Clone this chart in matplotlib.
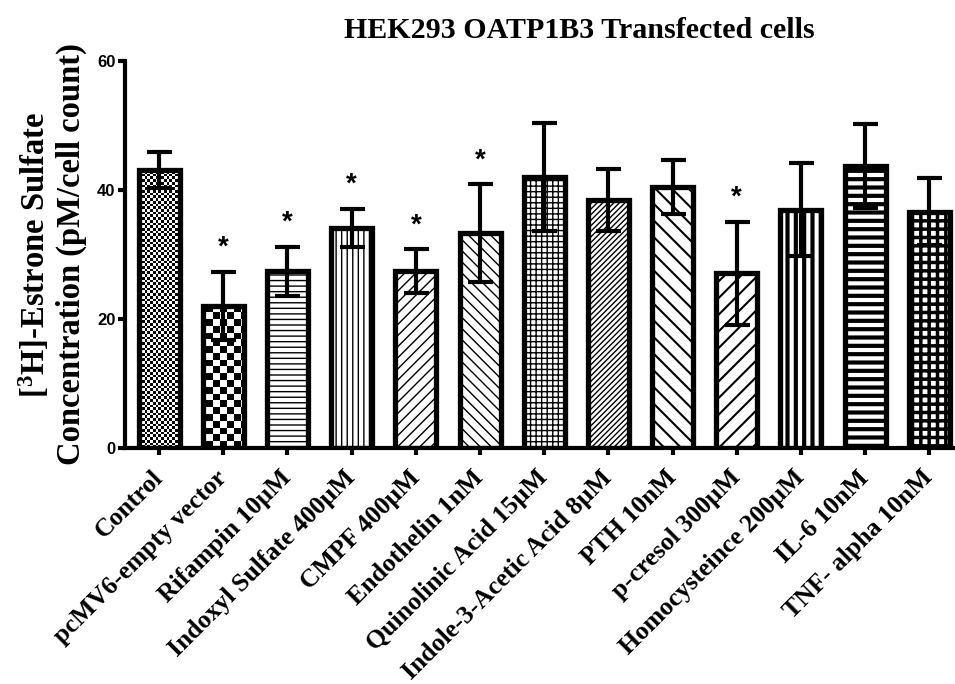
import numpy as np
import matplotlib
matplotlib.use("Agg")
import matplotlib.pyplot as plt
from matplotlib.transforms import ScaledTranslation

# -----------------------
# Data
# -----------------------
labels = ['Control', 'pcMV6-empty vector', 'Rifampin 10µM', 'Indoxyl Sulfate 400µM',
          'CMPF 400µM', 'Endothelin 1nM', 'Quinolinic Acid 15µM',
          'Indole-3-Acetic Acid 8µM', 'PTH 10nM', 'p-cresol 300µM',
          'Homocysteince 200µM', 'IL-6 10nM', 'TNF- alpha 10nM']
means = [43.1, 22.0, 27.4, 34.1, 27.4, 33.3, 42.0, 38.4, 40.5, 27.1, 36.9, 43.7, 36.6]
sems = [2.8, 5.3, 3.8, 3.0, 3.4, 7.6, 8.3, 4.8, 4.2, 8.0, 7.2, 6.5, 5.2]
significant = [False, True, True, True, True, True, False, False, False, True, False, False, False]

yticks = [0, 20, 40, 60]
title = 'HEK293 OATP1B3 Transfected cells'
ylabel = '[$^{3}$H]-Estrone Sulfate\nConcentration (pM/cell count)'

# bar fill styles: None -> checkerboard image with given cell size (px)
hatches = [None, None, '---', '|||', '///', '\\\\\\', '+++', '//////', '\\\\', '//', '||', '--', '++']
hatch_lw = [1, 1, 1, 1, 1, 1, 1, 1, 1.5, 1.5, 3, 3, 2.5]
checker_px = {0: 2.7, 1: 6.7}

# -----------------------
# Fonts
# -----------------------
plt.rcParams['mathtext.fontset'] = 'custom'
plt.rcParams['mathtext.rm'] = 'Liberation Serif:bold'
plt.rcParams['mathtext.it'] = 'Liberation Serif:bold'
plt.rcParams['mathtext.bf'] = 'Liberation Serif:bold'
serif = 'Liberation Serif'
sans = 'Liberation Sans'

# -----------------------
# Figure
# -----------------------
fig = plt.figure(figsize=(9.55, 6.84), dpi=100)
ax = fig.add_axes([0.131, 0.345, 0.869, 0.566])

x = np.arange(len(labels))
xlim = (-0.53, 12.4)
ylim = (0, 60)

bars = ax.bar(x, means, width=0.64, color='white', edgecolor='black',
              linewidth=3.8, zorder=2)

ax_w_px = 0.869 * 955
ax_h_px = 0.566 * 684
for i, bar in enumerate(bars):
    if hatches[i] is not None:
        bar.set_hatch(hatches[i])
        if hasattr(bar, 'set_hatch_linewidth'):
            bar.set_hatch_linewidth(hatch_lw[i])
    else:
        cell = checker_px[i]
        nx = int(ax_w_px / cell)
        ny = int(ax_h_px / cell)
        pattern = np.indices((ny, nx)).sum(axis=0) % 2
        bar.set_facecolor('none')
        im = ax.imshow(pattern, cmap='gray', interpolation='nearest', aspect='auto',
                       extent=(xlim[0], xlim[1], ylim[0], ylim[1]), origin='lower',
                       zorder=1.5)
        im.set_clip_path(bar)

ax.errorbar(x, means, yerr=sems, fmt='none', ecolor='black', elinewidth=3,
            capsize=9, capthick=3, zorder=4)

for xi, m, s, sig in zip(x, means, sems, significant):
    if sig:
        ax.text(xi, m + s + 2.6, '*', ha='center', va='baseline', fontsize=20,
                fontweight='bold', family=sans, zorder=5)

ax.set_xlim(*xlim)
ax.set_ylim(*ylim)

for side in ['top', 'right']:
    ax.spines[side].set_visible(False)
for side in ['left', 'bottom']:
    ax.spines[side].set_linewidth(3)

ax.set_yticks(yticks)
ax.set_yticklabels([str(t) for t in yticks], fontsize=12, fontweight='bold', family=sans)
ax.tick_params(axis='y', direction='out', length=5, width=3, pad=2)

ax.set_xticks(x)
ax.set_xticklabels(labels, rotation=45, ha='right', va='top', rotation_mode='anchor',
                   fontsize=18.5, fontweight='bold', family=serif)
ax.tick_params(axis='x', direction='out', length=5, width=3, pad=8)
for lab in ax.get_xticklabels():
    lab.set_transform(lab.get_transform() + ScaledTranslation(-0.08, 0, fig.dpi_scale_trans))

fig.text(579 / 955, 1 - 31 / 684, title, ha='center', va='center', fontsize=21.6,
         fontweight='bold', family=serif)
fig.text(52 / 955, 0.628, ylabel, rotation=90, ha='center', va='center',
         multialignment='center', fontsize=23.5, fontweight='bold', family=serif,
         linespacing=1.15)

fig.savefig('out.png', dpi=100)
